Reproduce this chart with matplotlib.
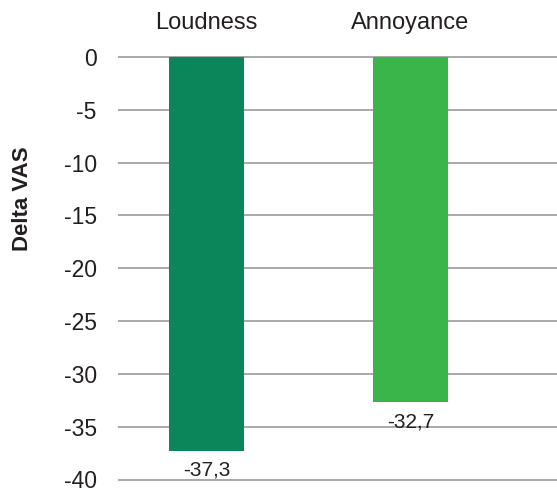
import matplotlib
matplotlib.use("Agg")
import matplotlib.pyplot as plt

categories = ["Loudness", "Annoyance"]
delta_vas = [-37.3, -32.7]
bar_colors = ["#0B865A", "#3AB54A"]
y_ticks = [0, -5, -10, -15, -20, -25, -30, -35, -40]

plt.rcParams["font.family"] = ["Liberation Sans", "DejaVu Sans"]
text_color = "#231F20"

W, H = 557, 488
fig = plt.figure(figsize=(W / 100, H / 100), dpi=100)
ax = fig.add_axes([119 / W, 1 - 479.5 / H, (W - 119) / W, 422.5 / H])

x = list(range(len(categories)))
ax.bar(x, delta_vas, width=0.368, color=bar_colors, zorder=3)

ax.set_ylim(-40, 0)
ax.set_xlim(-0.429, 1.718)
ax.set_yticks(y_ticks)
ax.set_yticklabels([str(t) for t in y_ticks], fontsize=16.5, color=text_color)
ax.tick_params(axis="y", length=0, pad=16)
ax.set_xticks([])

for t in y_ticks:
    ax.axhline(t, color="#A8A8A8", linewidth=1.4, zorder=1, clip_on=False)

for s in ax.spines.values():
    s.set_visible(False)

# category names above each bar
for xi, name in zip(x, categories):
    ax.text(xi, 1.066, name, transform=ax.get_xaxis_transform(), ha="center", va="baseline",
            fontsize=17, color=text_color)

# value labels under the bar ends
for xi, v in zip(x, delta_vas):
    ax.annotate(f"{v:.1f}".replace(".", ","), (xi, v), xytext=(0, -7), textcoords="offset points",
                ha="center", va="top", fontsize=15, color=text_color)

fig.text(23 / W, 1 - 199 / H, "Delta VAS", rotation=90, ha="center", va="center",
         fontsize=16, fontweight="bold", color=text_color)

fig.savefig("out.png", dpi=100)
